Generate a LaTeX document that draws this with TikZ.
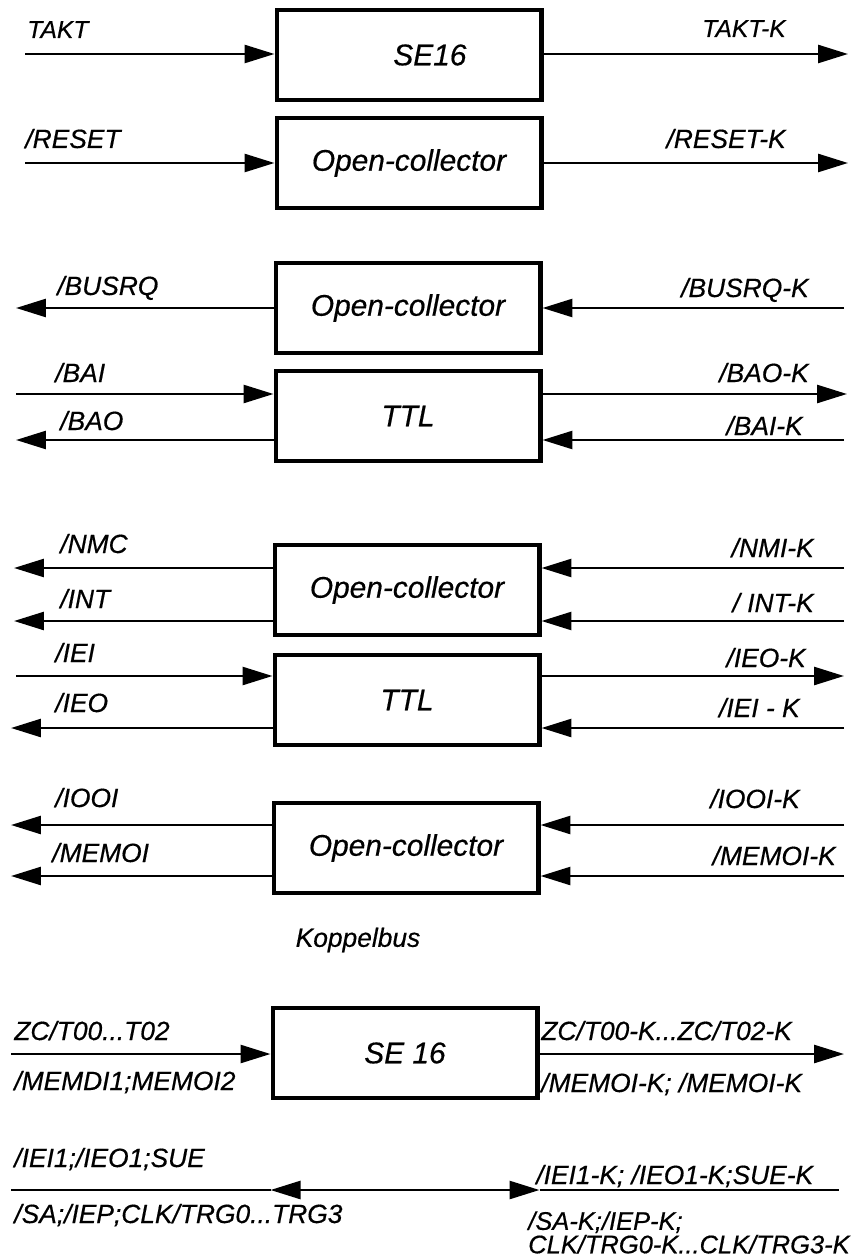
\documentclass[tikz,border=0pt]{standalone}
\usepackage{fontspec}
\setmainfont{Liberation Sans}[ItalicFeatures={FakeBold=0.5}]
\usetikzlibrary{arrows.meta}

\begin{document}
\begin{tikzpicture}[x=0.02cm,y=-0.02cm,
    font=\fontsize{15}{17}\selectfont\itshape,
    >={Triangle[length=0.6cm,width=0.36cm]},
    block/.style={draw,line width=2.3pt,minimum width=5.3cm,minimum height=1.8cm,
      inner sep=0pt,font=\fontsize{17}{19}\selectfont\itshape},
    sig/.style={line width=1.5pt},
    lbl/.style={anchor=base west,inner sep=0pt},
    rlbl/.style={anchor=base east,inner sep=0pt},
    smalltxt/.style={font=\fontsize{14}{16}\selectfont\itshape}]
  \useasboundingbox (0,0) rectangle (856,1260);

  % TAKT through SE16
  \node[block] (se1) at (409,55) {\hspace{1.4em}SE16};
  \coordinate (takt) at (25,54);
  \coordinate (taktk) at (848,54);
  \draw[sig,->] (takt) -- (takt -| se1.west);
  \draw[sig,->] (taktk -| se1.east) -- (taktk);
  \node[lbl,smalltxt] (n-takt) at (27,38) {TAKT};
  \node[rlbl,smalltxt] (n-taktk) at (786,37) {TAKT-K};

  % /RESET, open collector
  \node[block] (oc1) at (409,163) {Open-collector\hspace{0.8em}};
  \coordinate (reset) at (25,163);
  \coordinate (resetk) at (848,163);
  \draw[sig,->] (reset) -- (reset -| oc1.west);
  \draw[sig,->] (resetk -| oc1.east) -- (resetk);
  \node[lbl] (n-reset) at (25,148) {/RESET};
  \node[rlbl] (n-resetk) at (786,148) {/RESET-K};

  % /BUSRQ comes back from the bus
  \node[block] (oc2) at (408,308) {Open-collector\hspace{0.8em}};
  \coordinate (busrq) at (16,308);
  \coordinate (busrqk) at (844,308);
  \draw[sig,->] (busrq -| oc2.west) -- (busrq);
  \draw[sig,->] (busrqk) -- (busrqk -| oc2.east);
  \node[lbl] (n-busrq) at (57,295) {/BUSRQ};
  \node[rlbl] (n-busrqk) at (809,297) {/BUSRQ-K};

  % bus acknowledge chain, TTL
  \node[block] (ttl1) at (408,416) {TTL\hspace{1.2em}};
  \coordinate (bai) at (16,394);
  \coordinate (baok) at (847,394);
  \coordinate (bao) at (16,440);
  \coordinate (baik) at (844,440);
  \draw[sig,->] (bai) -- (bai -| ttl1.west);
  \draw[sig,->] (bao -| ttl1.west) -- (bao);
  \draw[sig,->] (baok -| ttl1.east) -- (baok);
  \draw[sig,->] (baik) -- (baik -| ttl1.east);
  \node[lbl] (n-bai) at (55,382) {/BAI};
  \node[lbl] (n-bao) at (60,430) {/BAO};
  \node[rlbl] (n-baok) at (809,382) {/BAO-K};
  \node[rlbl] (n-baik) at (803,435) {/BAI-K};

  % interrupts, open collector
  \node[block] (oc3) at (407,590) {Open-collector\hspace{0.6em}};
  \coordinate (nmc) at (14,568);
  \coordinate (nmik) at (844,568);
  \coordinate (int) at (14,621);
  \coordinate (intk) at (844,621);
  \draw[sig,->] (nmc -| oc3.west) -- (nmc);
  \draw[sig,->] (int -| oc3.west) -- (int);
  \draw[sig,->] (nmik) -- (nmik -| oc3.east);
  \draw[sig,->] (intk) -- (intk -| oc3.east);
  \node[lbl] (n-nmc) at (60,553) {/NMC};
  \node[lbl] (n-int) at (60,608) {/INT};
  \node[rlbl] (n-nmik) at (814,557) {/NMI-K};
  \node[rlbl] (n-intk) at (814,612) {/ INT-K};

  % interrupt enable chain, TTL
  \node[block] (ttl2) at (407,700) {TTL};
  \coordinate (iei) at (16,676);
  \coordinate (ieok) at (844,676);
  \coordinate (ieo) at (11,728);
  \coordinate (ieik) at (844,728);
  \draw[sig,->] (iei) -- (iei -| ttl2.west);
  \draw[sig,->] (ieo -| ttl2.west) -- (ieo);
  \draw[sig,->] (ieok -| ttl2.east) -- (ieok);
  \draw[sig,->] (ieik) -- (ieik -| ttl2.east);
  \node[lbl] (n-iei) at (55,662) {/IEI};
  \node[lbl] (n-ieo) at (55,712) {/IEO};
  \node[rlbl] (n-ieok) at (806,667) {/IEO-K};
  \node[rlbl] (n-ieik) at (800,717) {/IEI - K};

  % IO and memory, open collector
  \node[block] (oc4) at (406,848) {Open-collector\hspace{0.6em}};
  \coordinate (iooi) at (11,825);
  \coordinate (iooik) at (844,825);
  \coordinate (memoi) at (11,876);
  \coordinate (memoik) at (844,876);
  \draw[sig,->] (iooi -| oc4.west) -- (iooi);
  \draw[sig,->] (memoi -| oc4.west) -- (memoi);
  \draw[sig,->] (iooik) -- (iooik -| oc4.east);
  \draw[sig,->] (memoik) -- (memoik -| oc4.east);
  \node[lbl] (n-iooi) at (55,807) {/IOOI};
  \node[lbl] (n-memoi) at (52,862) {/MEMOI};
  \node[rlbl] (n-iooik) at (800,808) {/IOOI-K};
  \node[rlbl] (n-memoik) at (836,865) {/MEMOI-K};

  \node (kbus) at (358,940) {Koppelbus};

  % second SE16
  \node[block] (se2) at (405,1053) {SE 16};
  \coordinate (zc) at (11,1054);
  \coordinate (zck) at (844,1054);
  \draw[sig,->] (zc) -- (zc -| se2.west);
  \draw[sig,->] (zck -| se2.east) -- (zck);
  \node[lbl] (n-zc) at (14,1040) {ZC/T00...T02};
  \node[lbl] (n-memdi) at (14,1090) {/MEMDI1;MEMOI2};
  \node[lbl] (n-zck) at (541,1040) {ZC/T00-K...ZC/T02-K};
  \node[lbl] (n-memoikk) at (541,1092) {/MEMOI-K; /MEMOI-K};

  % direct lines, no driver
  \coordinate (sue) at (11,1190);
  \coordinate (suek) at (839,1190);
  \coordinate (suea) at (sue -| se2.west);
  \coordinate (sueb) at (sue -| se2.east);
  \draw[sig] (sue) -- (suea);
  \draw[sig,<->] (suea) -- (sueb);
  \draw[sig] (sueb) -- (suek);
  \node[lbl] (n-sue) at (14,1167) {/IEI1;/IEO1;SUE};
  \node[lbl] (n-sa) at (14,1223) {/SA;/IEP;CLK/TRG0...TRG3};
  \node[lbl] (n-suek) at (536,1184) {/IEI1-K; /IEO1-K;SUE-K};
  \node[anchor=north east,inner sep=0pt,align=left,font=\fontsize{14.5}{11.5}\selectfont\itshape]
    (n-sak) at (850,1211) {/SA-K;/IEP-K;\\CLK/TRG0-K...CLK/TRG3-K};
\end{tikzpicture}
\end{document}
